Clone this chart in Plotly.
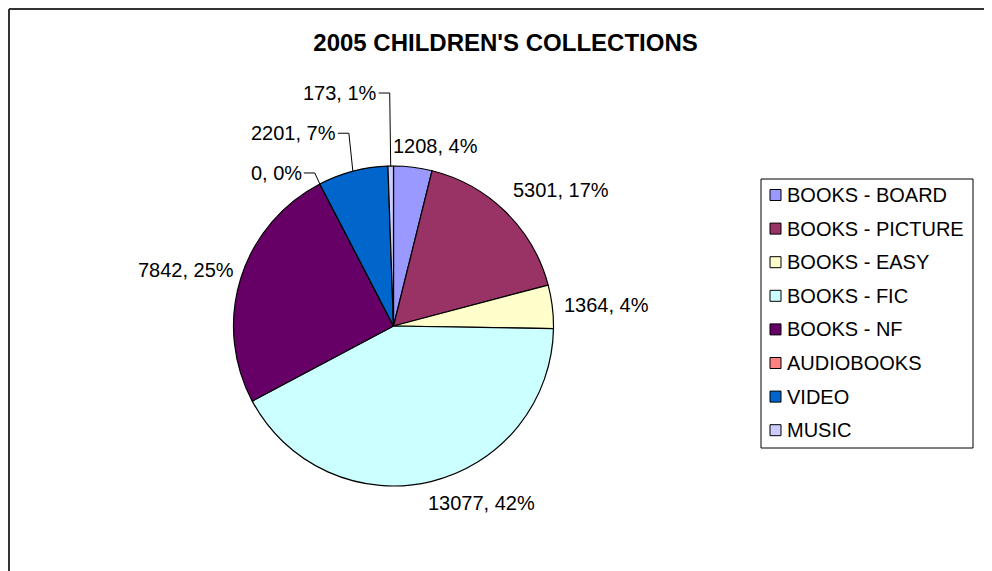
import math
import plotly.graph_objects as go

categories = ["BOOKS - BOARD", "BOOKS - PICTURE", "BOOKS - EASY", "BOOKS - FIC",
              "BOOKS - NF", "AUDIOBOOKS", "VIDEO", "MUSIC"]
values = [1208, 5301, 1364, 13077, 7842, 0, 2201, 173]
colors = ["#9999FF", "#993366", "#FFFFCC", "#CCFFFF",
          "#660066", "#FF8080", "#0066CC", "#CCCCFF"]
title_text = "2005 CHILDREN'S COLLECTIONS"

W, H = 992, 571
PAGE_OFF = 8  # page body margin shifts the figure by this many pixels
CX, CY, R = 393.5, 326.0, 160.0
FONT = "Liberation Sans, Arial, sans-serif"

# label placement style, relative to the slice edge at its mid angle (pixels)
label_style = [
    (-21, -21, "left", False),
    (6, -22, "left", False),
    (11, -2, "left", False),
    (-4, 21.5, "left", False),
    (-6, -8, "right", False),
    (-17, -11, "right", True),
    (-16, -38, "right", True),
    (-13, -73, "right", True),
]


def px(x):
    return (x - PAGE_OFF) / W


def py(y):
    return 1 - (y - PAGE_OFF) / H


fig = go.Figure(go.Pie(
    labels=categories,
    values=values,
    marker=dict(colors=colors, line=dict(color="black", width=1.2)),
    sort=False,
    direction="clockwise",
    rotation=0,
    textinfo="none",
    hoverinfo="label+value+percent",
    showlegend=False,
    domain=dict(x=[px(CX - R), px(CX + R)], y=[py(CY + R), py(CY - R)]),
))

total = sum(values)
annotations = []
shapes = []
cum = 0
for i, (cat, v) in enumerate(zip(categories, values)):
    mid = (cum + v / 2) / total
    cum += v
    ang = 2 * math.pi * mid
    ex = CX + R * math.sin(ang)
    ey = CY - R * math.cos(ang)
    dx, dy, anchor, leader = label_style[i]
    lx, ly = ex + dx, ey + dy
    pct = round(100 * v / total)
    annotations.append(dict(
        x=px(lx), y=py(ly), xref="paper", yref="paper",
        text=f"{v}, {pct}%", showarrow=False, xanchor=anchor, yanchor="middle",
        borderpad=0, font=dict(family=FONT, size=20, color="black"),
    ))
    if leader:
        elbow_x = lx + 12
        shapes.append(dict(type="line", xref="paper", yref="paper",
                           x0=px(ex), y0=py(ey), x1=px(elbow_x), y1=py(ly),
                           line=dict(color="black", width=1)))
        shapes.append(dict(type="line", xref="paper", yref="paper",
                           x0=px(elbow_x), y0=py(ly), x1=px(lx + 1), y1=py(ly),
                           line=dict(color="black", width=1)))

# legend (manual, built from categories and colours)
LG_L, LG_R, LG_T, LG_B = 761, 973, 179, 448
shapes.append(dict(type="rect", xref="paper", yref="paper",
                   x0=px(LG_L), x1=px(LG_R), y0=py(LG_B), y1=py(LG_T),
                   line=dict(color="black", width=1), fillcolor="white"))
for i, (cat, col) in enumerate(zip(categories, colors)):
    yc = 195 + i * 33.6
    shapes.append(dict(type="rect", xref="paper", yref="paper",
                       x0=px(770), x1=px(781), y0=py(yc + 5.5), y1=py(yc - 5.5),
                       line=dict(color="black", width=1), fillcolor=col))
    annotations.append(dict(
        x=px(786), y=py(yc), xref="paper", yref="paper", text=cat,
        showarrow=False, xanchor="left", yanchor="middle", borderpad=0,
        font=dict(family=FONT, size=20, color="black"),
    ))

# outer chart frame
shapes.append(dict(type="line", xref="paper", yref="paper",
                   x0=px(9), y0=py(9), x1=px(W + PAGE_OFF), y1=py(9),
                   line=dict(color="#333333", width=2)))
shapes.append(dict(type="line", xref="paper", yref="paper",
                   x0=px(9), y0=py(9), x1=px(9), y1=py(H + PAGE_OFF),
                   line=dict(color="#333333", width=2)))

fig.update_layout(
    width=W, height=H,
    margin=dict(l=0, r=0, t=0, b=0),
    paper_bgcolor="white", plot_bgcolor="white",
    title=dict(text=f"<b>{title_text}</b>", x=px(505.5), xanchor="center",
               y=py(43), yanchor="middle",
               font=dict(family=FONT, size=24, color="black")),
    annotations=annotations,
    shapes=shapes,
)

fig.write_html("out.html")
